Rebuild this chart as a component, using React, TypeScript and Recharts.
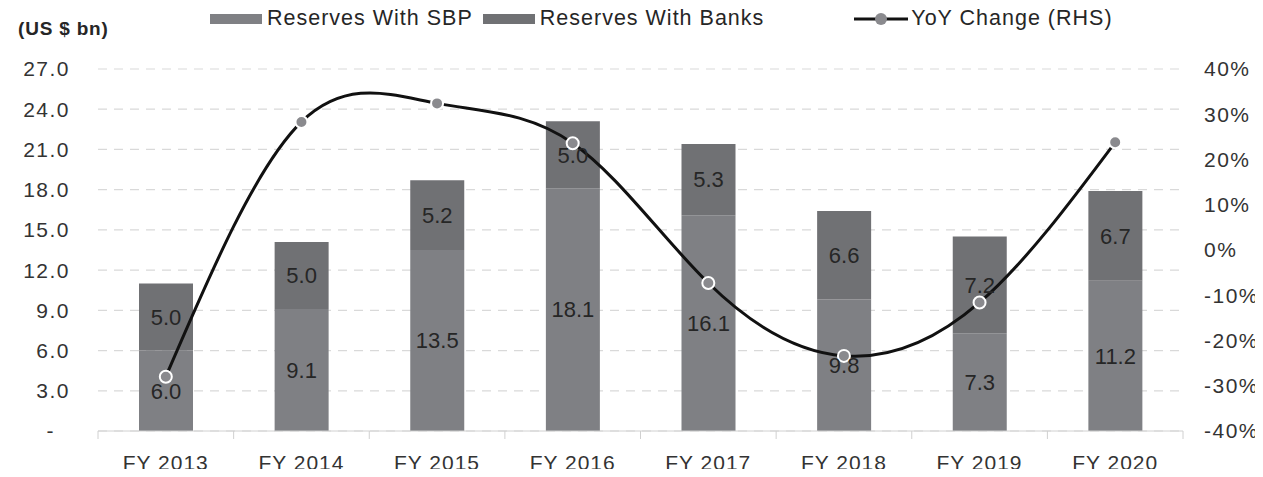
import { ComposedChart, Bar, Line, XAxis, YAxis, CartesianGrid, LabelList } from 'recharts';

const years = ['FY 2013', 'FY 2014', 'FY 2015', 'FY 2016', 'FY 2017', 'FY 2018', 'FY 2019', 'FY 2020'];
const reservesSbp = [6.0, 9.1, 13.5, 18.1, 16.1, 9.8, 7.3, 11.2];
const reservesBanks = [5.0, 5.0, 5.2, 5.0, 5.3, 6.6, 7.2, 6.7];
const yoyChange = [-28.0, 28.3, 32.4, 23.6, -7.3, -23.4, -11.6, 23.8];
const leftTicks = [0, 3, 6, 9, 12, 15, 18, 21, 24, 27];
const rightTicks = [-40, -30, -20, -10, 0, 10, 20, 30, 40];

const data = years.map((year, i) => ({
  year,
  sbp: reservesSbp[i],
  banks: reservesBanks[i],
  yoy: yoyChange[i],
}));

const W = 1263;
const H = 477;
const LEFT_W = 98;
const RIGHT_W = 80;
const FONT = '"Liberation Sans", Arial, sans-serif';
const SBP_COLOR = '#7f8084';
const BANKS_COLOR = '#707174';
const TEXT = '#333333';

const halfBand = (W - LEFT_W - RIGHT_W) / years.length / 2;

function XTick(props: any) {
  const { x, y, payload, index } = props;
  const axisY = y - 24;
  return (
    <g>
      <line x1={x - halfBand} x2={x - halfBand} y1={axisY} y2={axisY + 8} stroke="#d0d0d0" />
      {index === years.length - 1 && (
        <line x1={x + halfBand} x2={x + halfBand} y1={axisY} y2={axisY + 8} stroke="#d0d0d0" />
      )}
      <text x={x} y={y} dy="0.71em" textAnchor="middle" fontSize={21} letterSpacing={1} fill={TEXT} fontFamily={FONT}>
        {payload.value}
      </text>
    </g>
  );
}

function LeftTick(props: any) {
  const { x, y, payload } = props;
  const zero = payload.value === 0;
  return (
    <text x={zero ? x - 15 : x} y={y} dy="0.355em" textAnchor="end" fontSize={21} letterSpacing={1.5} fill={TEXT} fontFamily={FONT}>
      {zero ? '-' : Number(payload.value).toFixed(1)}
    </text>
  );
}

function RightTick(props: any) {
  const { x, y, payload } = props;
  return (
    <text x={x} y={y} dy="0.355em" textAnchor="start" fontSize={21} letterSpacing={1.5} fill={TEXT} fontFamily={FONT}>
      {`${payload.value}%`}
    </text>
  );
}

function Legend() {
  const item = { display: 'flex', alignItems: 'center' } as const;
  const swatch = (c: string) => ({ width: 52, height: 10, background: c, marginRight: 5 });
  return (
    <div
      style={{
        position: 'absolute',
        top: 6,
        left: 210,
        display: 'flex',
        alignItems: 'center',
        fontFamily: FONT,
        fontSize: 21.5,
        letterSpacing: 1,
        color: '#262626',
      }}
    >
      <div style={{ ...item, marginRight: 10 }}>
        <div style={swatch(SBP_COLOR)} />
        <span>Reserves With SBP</span>
      </div>
      <div style={{ ...item, marginRight: 90 }}>
        <div style={swatch(BANKS_COLOR)} />
        <span>Reserves With Banks</span>
      </div>
      <div style={item}>
        <svg width={54} height={14} style={{ marginRight: 3 }}>
          <line x1={0} x2={54} y1={7} y2={7} stroke="#111" strokeWidth={3} />
          <circle cx={27} cy={7} r={6} fill="#8a8a8e" />
        </svg>
        <span>YoY Change (RHS)</span>
      </div>
    </div>
  );
}

export default function App() {
  return (
    <div style={{ position: 'relative', width: W, height: H, margin: -8, background: '#fff' }}>
      <div
        style={{
          position: 'absolute',
          top: 18,
          left: 18,
          fontFamily: FONT,
          fontWeight: 'bold',
          fontSize: 19,
          letterSpacing: 0.8,
          color: '#262626',
        }}
      >
        (US $ bn)
      </div>
      <Legend />
      <ComposedChart width={W} height={H} data={data} margin={{ top: 69, right: 0, bottom: 0, left: 0 }} barSize={54}>
        <CartesianGrid yAxisId="left" vertical={false} stroke="#d9d9d9" strokeDasharray="9 7" strokeWidth={1.2} />
        <XAxis
          dataKey="year"
          height={46}
          axisLine={{ stroke: '#d0d0d0' }}
          tickLine={false}
          tickSize={0}
          tickMargin={24}
          tick={<XTick />}
          interval={0}
        />
        <YAxis
          yAxisId="left"
          width={LEFT_W}
          domain={[0, 27]}
          ticks={leftTicks}
          axisLine={false}
          tickLine={false}
          tickSize={0}
          tickMargin={28}
          tick={<LeftTick />}
        />
        <YAxis
          yAxisId="right"
          orientation="right"
          width={RIGHT_W}
          domain={[-40, 40]}
          ticks={rightTicks}
          axisLine={false}
          tickLine={false}
          tickSize={0}
          tickMargin={21}
          tick={<RightTick />}
        />
        <Bar yAxisId="left" dataKey="sbp" stackId="r" fill={SBP_COLOR} isAnimationActive={false}>
          <LabelList dataKey="sbp" position="center" fill="#262626" fontSize={22} fontFamily={FONT} formatter={(v: any) => Number(v).toFixed(1)} />
        </Bar>
        <Bar yAxisId="left" dataKey="banks" stackId="r" fill={BANKS_COLOR} isAnimationActive={false}>
          <LabelList dataKey="banks" position="center" fill="#262626" fontSize={22} fontFamily={FONT} formatter={(v: any) => Number(v).toFixed(1)} />
        </Bar>
        <Line
          yAxisId="right"
          dataKey="yoy"
          type="natural"
          stroke="#111"
          strokeWidth={3}
          dot={{ r: 6, fill: '#8a8a8e', stroke: '#fff', strokeWidth: 2 }}
          activeDot={false}
          isAnimationActive={false}
        />
      </ComposedChart>
    </div>
  );
}
